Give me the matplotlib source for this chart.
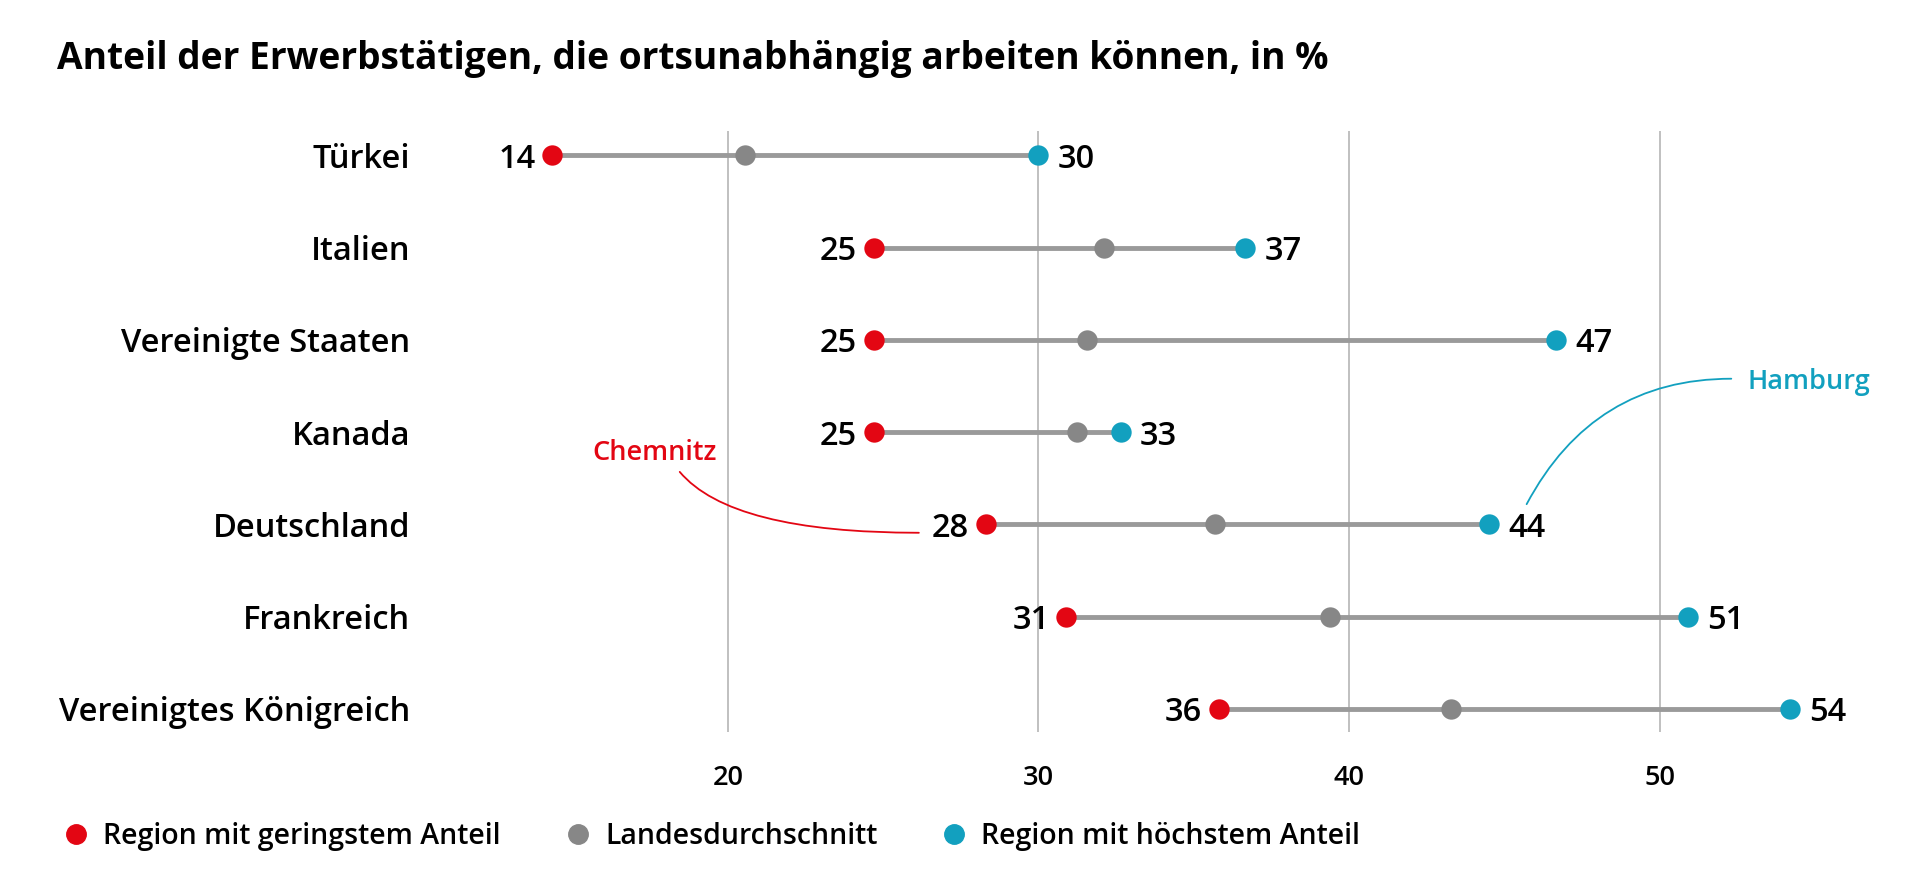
import matplotlib.pyplot as plt
from matplotlib.lines import Line2D

plt.rcParams['font.family'] = ['Open Sans', 'DejaVu Sans']
plt.rcParams['font.weight'] = 'semibold'

# Daten
laender = ['Türkei', 'Italien', 'Vereinigte Staaten', 'Kanada',
           'Deutschland', 'Frankreich', 'Vereinigtes Königreich']
min_region = [14.35, 24.7, 24.7, 24.7, 28.3, 30.9, 35.8]
durchschnitt = [20.55, 32.1, 31.55, 31.25, 35.7, 39.4, 43.3]
max_region = [30.0, 36.65, 46.65, 32.65, 44.5, 50.9, 54.2]
ticks = [20, 30, 40, 50]

ROT = '#e30613'
GRAU = '#878787'
BLAU = '#12a0bf'

fig = plt.figure(figsize=(19.2, 8.82), dpi=100)
ax = fig.add_axes([0.2497, 0.170, 0.7117, 0.682])

y = list(range(len(laender)))
for i in y:
    ax.plot([min_region[i], max_region[i]], [i, i], color='#9a9a9a', lw=3.5,
            solid_capstyle='butt', zorder=2)
ax.scatter(min_region, y, s=215, color=ROT, zorder=3, linewidths=0)
ax.scatter(durchschnitt, y, s=215, color=GRAU, zorder=3, linewidths=0)
ax.scatter(max_region, y, s=215, color=BLAU, zorder=3, linewidths=0)

# Werte beschriften
for i in y:
    ax.annotate(f'{round(min_region[i])}', (min_region[i], i), xytext=(-12, 0),
                textcoords='offset points', ha='right', va='center_baseline', fontsize=23.5)
    ax.annotate(f'{round(max_region[i])}', (max_region[i], i), xytext=(14, 0),
                textcoords='offset points', ha='left', va='center_baseline', fontsize=23.5)

ax.set_xlim(12, 56)
ax.set_ylim(6.25, -0.27)
ax.set_xticks(ticks)
ax.set_xticklabels([str(t) for t in ticks], fontsize=19.5)
ax.set_yticks(y)
ax.set_yticklabels(laender, fontsize=23.5)
ax.tick_params(axis='y', length=0, pad=50)
ax.tick_params(axis='x', length=0, pad=23)
ax.grid(axis='x', color='#b5b5b5', lw=1.2)
ax.set_axisbelow(True)
for s in ax.spines.values():
    s.set_visible(False)

# Chemnitz / Hamburg
ax.text(17.65, 3.30, 'Chemnitz', color=ROT, fontsize=19.5, ha='center', va='baseline')
ax.annotate('', xy=(26.15, 4.09), xytext=(18.45, 3.43),
            arrowprops=dict(arrowstyle='-', color=ROT, lw=1.3, shrinkA=0, shrinkB=0,
                            connectionstyle='angle3,angleA=-50,angleB=0'))
ax.text(52.83, 2.53, 'Hamburg', color=BLAU, fontsize=19.5, ha='left', va='baseline')
ax.annotate('', xy=(45.72, 3.78), xytext=(52.31, 2.42),
            arrowprops=dict(arrowstyle='-', color=BLAU, lw=1.3, shrinkA=0, shrinkB=0,
                            connectionstyle='angle3,angleA=0,angleB=62'))

fig.text(57 / 1920, 1 - 59 / 882, 'Anteil der Erwerbstätigen, die ortsunabhängig arbeiten können, in %',
         fontsize=26.7, fontweight='bold', va='center', ha='left')

handles = [Line2D([], [], marker='o', ls='', color=c, markersize=14)
           for c in [ROT, GRAU, BLAU]]
fig.legend(handles, ['Region mit geringstem Anteil', 'Landesdurchschnitt', 'Region mit höchstem Anteil'],
           loc='center left', bbox_to_anchor=(0.022, 0.052), ncol=3, frameon=False,
           fontsize=20.5, handlelength=0.6, handletextpad=0.65, columnspacing=2.4)

plt.savefig('out.png', dpi=100)
